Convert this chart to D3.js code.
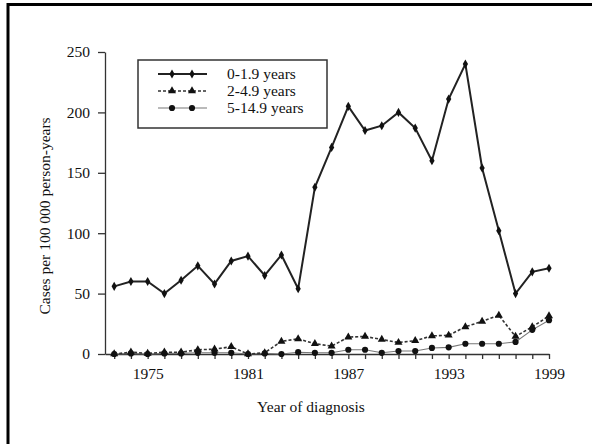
<!DOCTYPE html>
<meta charset="utf-8">
<style>
  body { margin: 0; background: #fff; }
  svg text { font-family: "Liberation Serif", "Times New Roman", serif; fill: #111; }
</style>
<body>
  <div id="graph"></div>
  <script src="https://d3js.org/d3.v7.min.js"></script>
  <script>
    // year of diagnosis
    var years = [1973, 1974, 1975, 1976, 1977, 1978, 1979, 1980, 1981, 1982, 1983, 1984, 1985, 1986,
      1987, 1988, 1989, 1990, 1991, 1992, 1993, 1994, 1995, 1996, 1997, 1998, 1999];

    // cases per 100 000 person-years, by age group
    var age0to2 = [56, 60, 60, 50, 61, 73, 58, 77, 81, 65, 82, 54, 138, 171,
      205, 185, 189, 200, 187, 160, 211, 240, 154, 102, 50, 68, 71];
    var age2to5 = [0, 1.5, 0.5, 1.5, 1.5, 3.5, 4, 6, 0, 1, 10.5, 12.5, 8.5, 6.5,
      14, 14.5, 12, 9.5, 11, 15, 15.5, 22.5, 27, 32, 14.5, 22.5, 31.5];
    var age5to15 = [0, 0.5, 0, 0.5, 0.5, 1, 1, 1, 0, 0.5, 0, 1.5, 1, 1,
      3.5, 3.5, 1, 2.5, 2.5, 5, 5.5, 8.5, 8.5, 8.5, 10, 20, 28];

    var seriesNames = ["0-1.9 years", "2-4.9 years", "5-14.9 years"];
    var yTicks = [0, 50, 100, 150, 200, 250];
    var xLabelYears = [1975, 1981, 1987, 1993, 1999];

    var width = 592,
      height = 444;

    var svg = d3.select("#graph")
      .append("svg")
      .attr("width", width)
      .attr("height", height);

    // frame (only top and left edges show in the scan)
    svg.append("path")
      .attr("d", "M8,444 L8,4.5 L592,4.5")
      .attr("fill", "none")
      .attr("stroke", "#000")
      .attr("stroke-width", 3);

    var x = d3.scaleLinear()
      .domain([1972.45, 1999])
      .range([105, 549]);

    var y = d3.scaleLinear()
      .domain([0, 250])
      .range([354, 52]);

    var xAxis = d3.axisBottom(x)
      .tickValues(years)
      .tickSize(5)
      .tickPadding(9)
      .tickSizeOuter(0)
      .tickFormat(function(d) {
        return xLabelYears.indexOf(d) >= 0 ? d : "";
      });

    var yAxis = d3.axisLeft(y)
      .tickValues(yTicks)
      .tickSize(7)
      .tickPadding(8)
      .tickSizeOuter(0);

    svg.append("g")
      .attr("class", "x axis")
      .attr("transform", "translate(0," + y(0) + ")")
      .call(xAxis);

    svg.append("g")
      .attr("class", "y axis")
      .attr("transform", "translate(" + x.range()[0] + ",0)")
      .call(yAxis);

    svg.selectAll(".axis path, .axis line")
      .attr("stroke", "#333")
      .attr("stroke-width", 1.3);
    svg.selectAll(".axis text")
      .attr("font-size", 15.5)
      .attr("font-family", "Liberation Serif, serif")
      .attr("fill", "#111");

    svg.append("text")
      .attr("x", 311)
      .attr("y", 412)
      .attr("text-anchor", "middle")
      .attr("font-size", 15.5)
      .text("Year of diagnosis");

    svg.append("text")
      .attr("transform", "translate(50,216) rotate(-90)")
      .attr("text-anchor", "middle")
      .attr("font-size", 15.5)
      .text("Cases per 100 000 person-years");

    var series = [
      { name: seriesNames[2], values: age5to15, stroke: "#777", width: 1.1, dash: null, symbol: d3.symbolCircle, size: 30 },
      { name: seriesNames[1], values: age2to5, stroke: "#333", width: 1.6, dash: "3,2", symbol: d3.symbolTriangle, size: 28 },
      { name: seriesNames[0], values: age0to2, stroke: "#222", width: 2, dash: null, symbol: d3.symbolDiamond, size: 24 }
    ];

    var line = d3.line()
      .x(function(d, i) { return x(years[i]); })
      .y(function(d) { return y(d); });

    series.forEach(function(s) {
      svg.append("path")
        .datum(s.values)
        .attr("fill", "none")
        .attr("stroke", s.stroke)
        .attr("stroke-width", s.width)
        .attr("stroke-dasharray", s.dash)
        .attr("d", line);

      svg.selectAll(null)
        .data(s.values)
        .enter().append("path")
        .attr("d", d3.symbol().type(s.symbol).size(s.size))
        .attr("fill", "#111")
        .attr("transform", function(d, i) {
          return "translate(" + x(years[i]) + "," + y(d) + ")";
        });
    });

    // legend
    var legend = svg.append("g").attr("class", "legend");
    legend.append("rect")
      .attr("x", 138)
      .attr("y", 60)
      .attr("width", 189)
      .attr("height", 68)
      .attr("fill", "#fff")
      .attr("stroke", "#333")
      .attr("stroke-width", 1.5);

    var legendRows = [series[2], series[1], series[0]];
    var rowY = [74, 91, 108];

    legendRows.forEach(function(s, i) {
      legend.append("line")
        .attr("x1", 158)
        .attr("x2", 207)
        .attr("y1", rowY[i])
        .attr("y2", rowY[i])
        .attr("stroke", s.stroke)
        .attr("stroke-width", s.width)
        .attr("stroke-dasharray", s.dash);
      [172, 192].forEach(function(mx) {
        legend.append("path")
          .attr("d", d3.symbol().type(s.symbol).size(s.size))
          .attr("fill", "#111")
          .attr("transform", "translate(" + mx + "," + rowY[i] + ")");
      });
      legend.append("text")
        .attr("x", 227)
        .attr("y", rowY[i])
        .attr("dy", "0.35em")
        .attr("font-size", 15.5)
        .text(s.name);
    });
  </script>
</body>
